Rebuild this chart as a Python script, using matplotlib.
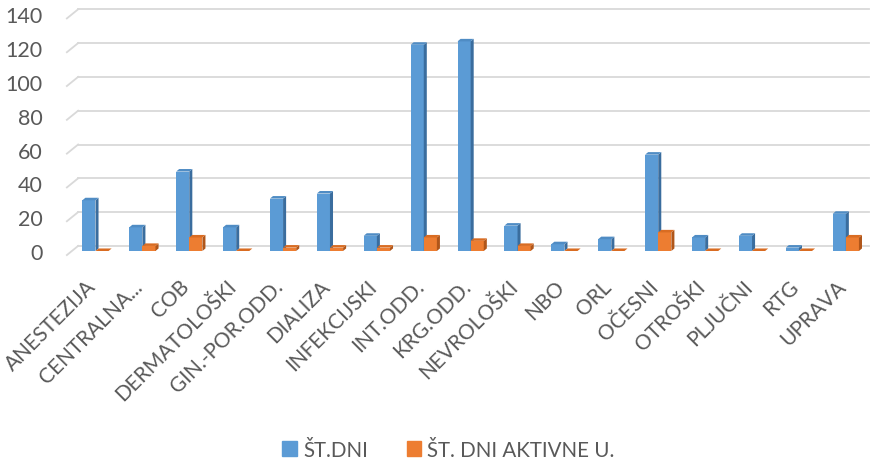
import matplotlib.pyplot as plt
from matplotlib.patches import Polygon, Patch
import numpy as np

plt.rcParams['font.family'] = ['Lato', 'DejaVu Sans']

oddelki = ['ANESTEZIJA', 'CENTRALNA...', 'COB', 'DERMATOLOŠKI', 'GIN.-POR.ODD.',
           'DIALIZA', 'INFEKCIJSKI', 'INT.ODD.', 'KRG.ODD.', 'NEVROLOŠKI', 'NBO',
           'ORL', 'OČESNI', 'OTROŠKI', 'PLJUČNI', 'RTG', 'UPRAVA']
st_dni = [30, 14, 47, 14, 31, 34, 9, 122, 124, 15, 4, 7, 57, 8, 9, 2, 22]
st_dni_aktivne = [0, 3, 8, 0, 2, 2, 2, 8, 6, 3, 0, 0, 11, 0, 0, 0, 8]
yticks = [0, 20, 40, 60, 80, 100, 120, 140]

BLUE, BLUE_SIDE, BLUE_TOP = '#5B9BD5', '#3A6D9E', '#4F8CC4'
ORANGE, ORANGE_SIDE, ORANGE_TOP = '#ED7D31', '#B0561A', '#D96C22'
TEXT = '#595959'

fig = plt.figure(figsize=(8.71, 4.64), dpi=100)
ax = fig.add_axes([0.0827, 0.4569, 0.9153, 0.51])

x = np.arange(len(oddelki))
w = 0.28
dx, dy = 0.065, 1.5   # depth of the pseudo-3D columns


def column(xc, h, face, side, top):
    ax.bar(xc, h, width=w, color=face, zorder=3)
    x0, x1 = xc - w / 2, xc + w / 2
    ax.add_patch(Polygon([(x1, 0), (x1 + dx, dy), (x1 + dx, h + dy), (x1, h)],
                         closed=True, color=side, zorder=3, lw=0))
    ax.add_patch(Polygon([(x0, h), (x1, h), (x1 + dx, h + dy), (x0 + dx, h + dy)],
                         closed=True, color=top, zorder=3, lw=0))


for i in x:
    column(i - w / 2, st_dni[i], BLUE, BLUE_SIDE, BLUE_TOP)
    column(i + w / 2, st_dni_aktivne[i], ORANGE, ORANGE_SIDE, ORANGE_TOP)

# back-wall gridlines with the small slanted floor edge on the left
for v in yticks:
    ax.plot([-0.37, 16.5], [v + 3, v + 3], color='#D9D9D9', lw=1.3, zorder=1,
            clip_on=False)
    ax.plot([-0.61, -0.37], [v - 2.4, v + 3], color='#D9D9D9', lw=1.3, zorder=1,
            clip_on=False)

ax.set_xlim(-0.5, 16.5)
ax.set_ylim(0, 140)
ax.set_yticks(yticks)
ax.set_yticklabels([str(v) for v in yticks], fontsize=15.5, color=TEXT)
ax.set_xticks(x - 0.06)
ax.set_xticklabels(oddelki, rotation=45, ha='right', va='center',
                   rotation_mode='anchor', fontsize=15, color=TEXT)
ax.tick_params(axis='y', length=0, pad=21)
ax.tick_params(axis='x', length=0, pad=23)
for s in ax.spines.values():
    s.set_visible(False)

handles = [Patch(color=BLUE), Patch(color=ORANGE)]
fig.legend(handles, ['ŠT.DNI', 'ŠT. DNI AKTIVNE U.'], loc='lower center',
           bbox_to_anchor=(0.515, -0.033), ncol=2, frameon=False, fontsize=14.8,
           labelcolor=TEXT, handlelength=0.7, handleheight=0.7,
           handletextpad=0.3, columnspacing=1.9)

fig.savefig('out.png', dpi=100)
